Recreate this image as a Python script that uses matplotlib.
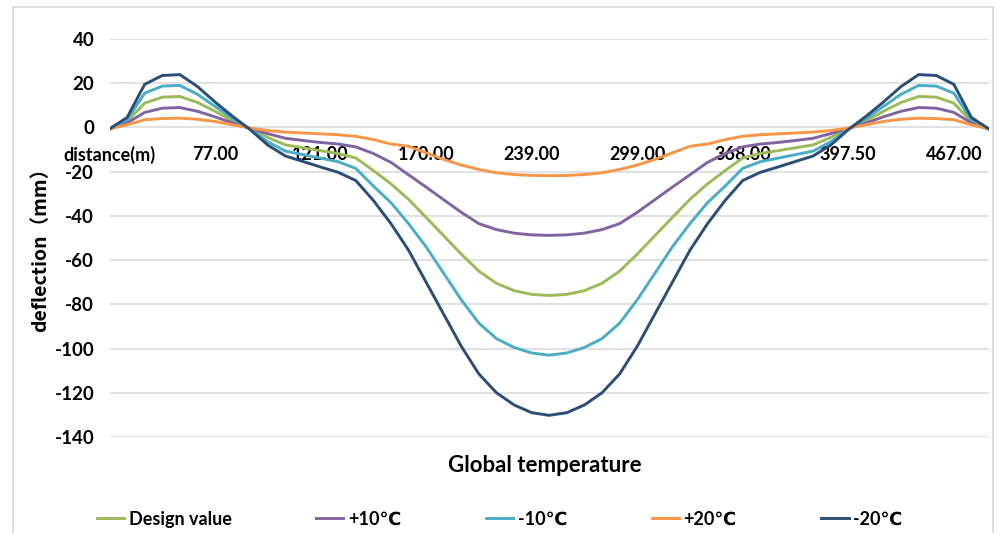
import matplotlib.pyplot as plt
import numpy as np
from matplotlib.lines import Line2D

# deflection (mm) along the bridge, one value per category node
design = [-0.7, 2.7, 11.0, 13.7, 14.0, 11.3, 7.3, 3.0, -0.6, -4.5, -7.9, -9.2, -10.5,
          -11.8, -13.8, -19.5, -25.5, -32.5, -40.7, -49.0, -57.3, -65.0, -70.5, -73.8,
          -75.5, -76.0, -75.5, -73.8, -70.5, -65.0, -57.3, -49.0, -40.7, -32.5, -25.5,
          -19.5, -13.8, -11.8, -10.5, -9.2, -7.9, -4.5, -0.6, 3.0, 7.3, 11.3, 14.0,
          13.7, 11.0, 2.7, -0.7]
plus10 = [-0.7, 2.0, 6.8, 8.7, 9.0, 7.3, 4.8, 2.0, -0.5, -2.8, -4.9, -5.9, -6.8,
          -7.5, -8.8, -11.8, -15.8, -21.4, -27.0, -32.7, -38.4, -43.5, -46.2, -47.8,
          -48.6, -48.8, -48.6, -47.8, -46.2, -43.5, -38.4, -32.7, -27.0, -21.4, -15.8,
          -11.8, -8.8, -7.5, -6.8, -5.9, -4.9, -2.8, -0.5, 2.0, 4.8, 7.3, 9.0,
          8.7, 6.8, 2.0, -0.7]
minus10 = [-0.7, 3.5, 15.5, 18.7, 19.0, 15.0, 9.5, 4.0, -0.8, -6.5, -10.7, -12.3, -13.9,
           -15.5, -18.5, -26.5, -34.0, -43.5, -54.0, -66.0, -78.0, -88.5, -95.5, -99.5,
           -102.0, -103.0, -102.0, -99.5, -95.5, -88.5, -78.0, -66.0, -54.0, -43.5, -34.0,
           -26.5, -18.5, -15.5, -13.9, -12.3, -10.7, -6.5, -0.8, 4.0, 9.5, 15.0, 19.0,
           18.7, 15.5, 3.5, -0.7]
plus20 = [-0.7, 1.2, 3.5, 4.0, 4.2, 3.7, 2.7, 1.2, -0.3, -1.4, -2.1, -2.5, -2.9,
          -3.3, -4.0, -5.5, -7.5, -8.5, -11.5, -14.5, -17.0, -19.0, -20.5, -21.3,
          -21.7, -21.8, -21.7, -21.3, -20.5, -19.0, -17.0, -14.5, -11.5, -8.5, -7.5,
          -5.5, -4.0, -3.3, -2.9, -2.5, -2.1, -1.4, -0.3, 1.2, 2.7, 3.7, 4.2,
          4.0, 3.5, 1.2, -0.7]
minus20 = [-0.7, 4.5, 19.5, 23.5, 23.9, 18.5, 11.5, 5.0, -1.0, -8.0, -12.9, -15.4, -17.9,
           -20.3, -24.0, -33.0, -43.5, -55.5, -70.0, -84.5, -99.0, -111.5, -120.0, -125.5,
           -129.0, -130.2, -129.0, -125.5, -120.0, -111.5, -99.0, -84.5, -70.0, -55.5, -43.5,
           -33.0, -24.0, -20.3, -17.9, -15.4, -12.9, -8.0, -1.0, 5.0, 11.5, 18.5, 23.9,
           23.5, 19.5, 4.5, -0.7]

series_labels = ["Design value", "+10℃", "-10℃", "+20℃", "-20℃"]
colors = ["#9BBB59", "#8064A2", "#4BACC6", "#F79646", "#2C4D75"]
tick_labels = ["distance(m)", "77.00", "121.00", "170.00", "239.00",
               "299.00", "368.00", "397.50", "467.00"]
label_step = 6

plt.rcParams['font.family'] = ['Lato', 'DejaVu Sans']
plt.rcParams['font.weight'] = 'bold'
plt.rcParams['axes.unicode_minus'] = False

W, H = 997, 533
fig = plt.figure(figsize=(W / 100, H / 100), dpi=100)
ax = fig.add_axes([109.5 / W, 1 - 437 / H, (989 - 109.5) / W, (437 - 39) / H])

x = np.arange(len(design))
for vals, lab, c in zip([design, plus10, minus10, plus20, minus20], series_labels, colors):
    ax.plot(x, vals, color=c, lw=2.1, label=lab, solid_joinstyle='round')

ax.set_xlim(0, len(design) - 1)
ax.set_ylim(-140, 40)
ax.set_yticks(np.arange(-140, 41, 20))
ax.yaxis.grid(True, color="#D9D9D9", lw=1.1)
ax.set_axisbelow(True)
for s in ax.spines.values():
    s.set_visible(False)
ax.spines['bottom'].set_position(('data', 0))
ax.set_xticks(np.arange(0, len(design), label_step)[:len(tick_labels)])
ax.set_xticklabels(tick_labels)
ax.tick_params(axis='x', length=0, pad=13, labelsize=13)
ax.tick_params(axis='y', length=0, pad=11, labelsize=13.5)

fig.text(545 / W, 1 - 466 / H, "Global temperature", ha='center', va='center',
         fontsize=16, fontweight='bold')
fig.text(41 / W, 1 - 245 / H, "deflection（mm）", rotation=90, ha='center', va='center',
         fontsize=14, fontweight='bold', family=['Noto Sans CJK SC', 'DejaVu Sans'])

fig.legend(loc='center left', bbox_to_anchor=(97 / W, 1 - 519 / H), ncol=5,
           frameon=False, fontsize=13, handlelength=1.5, handletextpad=0.25,
           columnspacing=4.7, borderpad=0, borderaxespad=0)

# light chart-area border
border = "#D9D9D9"
fig.add_artist(Line2D([13 / W, 993 / W], [1 - 7 / H, 1 - 7 / H], color=border, lw=1.2))
fig.add_artist(Line2D([13 / W, 13 / W], [0, 1 - 7 / H], color=border, lw=1.2))
fig.add_artist(Line2D([993 / W, 993 / W], [0, 1 - 7 / H], color=border, lw=1.2))

fig.savefig("out.png", dpi=100)
